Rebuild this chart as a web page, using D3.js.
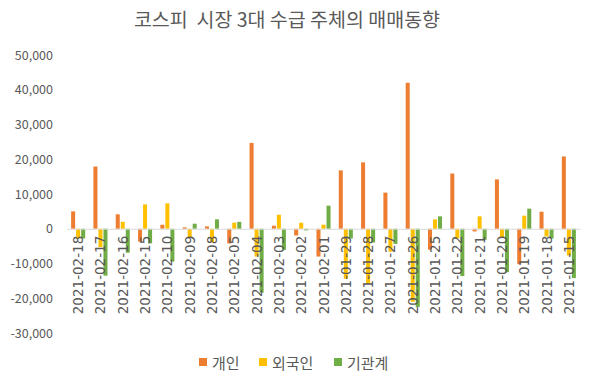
<!DOCTYPE html>
<html><head><meta charset="utf-8">
<script src="https://cdn.jsdelivr.net/npm/d3@7"></script>
<style>body{margin:0;background:#fff}svg{display:block}</style>
</head><body>
<script>
const dates = ["2021-02-18","2021-02-17","2021-02-16","2021-02-15","2021-02-10","2021-02-09","2021-02-08","2021-02-05","2021-02-04","2021-02-03","2021-02-02","2021-02-01","2021-01-29","2021-01-28","2021-01-27","2021-01-26","2021-01-25","2021-01-22","2021-01-21","2021-01-20","2021-01-19","2021-01-18","2021-01-15"];
const individual = [5000,17900,4150,-3700,1150,400,670,-4250,24700,870,-1930,-8000,16800,19100,10400,42000,-6000,15900,-770,14200,-10200,4900,20800];
const foreign = [-2800,-5300,2000,7000,7300,-2500,-3850,1750,-8000,4050,1730,1160,-14400,-15800,-6600,-21000,2700,-2800,3570,-2500,3760,-2200,-7700];
const institution = [-2800,-13500,-6900,-4200,-9450,1450,2700,2000,-18400,-6070,-480,6650,-2800,-3950,-4340,-22500,3570,-13600,-3180,-12500,5780,-2800,-14200];
const seriesNames = ["개인","외국인","기관계"];
const colors = ["#ED7D31","#FFC000","#70AD47"];
const yTicks = [-30000,-20000,-10000,0,10000,20000,30000,40000,50000];
const title = "코스피  시장 3대 수급 주체의 매매동향";

const W = 591, H = 381;
const svg = d3.select("body").append("svg").attr("width", W).attr("height", H);
const font = "'Noto Sans CJK KR', 'Noto Sans', sans-serif";

const x0 = d3.scaleBand().domain(dates).range([67, 580]).paddingInner(0.37).paddingOuter(0.185);
const x1 = d3.scaleBand().domain(seriesNames).range([0, x0.bandwidth()]).paddingInner(0.2);
const y = d3.scaleLinear().domain([-30000, 50000]).range([333, 55]);

const seriesVals = [individual, foreign, institution];

svg.append("text").attr("x", 287).attr("y", 27).attr("text-anchor", "middle")
  .style("white-space", "pre")
  .attr("font-family", font).attr("font-size", 19.5).attr("fill", "#595959").text(title);

// y axis labels
const yAxis = d3.axisLeft(y).tickValues(yTicks).tickSize(0).tickPadding(0)
  .tickFormat(d => d3.format(",")(d).replace("−","-"));
const ya = svg.append("g").attr("transform", "translate(53,0)").call(yAxis);
ya.select(".domain").remove();
ya.selectAll("text").attr("font-family", font).attr("font-size", 12.5).attr("fill", "#595959");

// bars
seriesVals.forEach((vals, si) => {
  svg.append("g").selectAll("rect").data(vals).join("rect")
    .attr("x", (d, i) => x0(dates[i]) + x1(seriesNames[si]))
    .attr("width", x1.bandwidth())
    .attr("y", d => y(Math.max(0, d)))
    .attr("height", d => Math.abs(y(d) - y(0)))
    .attr("fill", colors[si]);
});

// zero axis line
const xa = svg.append("g").attr("transform", `translate(0,${y(0)})`)
  .call(d3.axisBottom(x0).tickSize(0).tickPadding(0));
xa.select(".domain").attr("stroke", "#D9D9D9").attr("stroke-width", 1.2);
xa.selectAll("text")
  .attr("font-family", "'DejaVu Sans', sans-serif").attr("font-size", 13.5).attr("fill", "#595959")
  .attr("text-anchor", "end").attr("dy", null)
  .attr("transform", "translate(0,7) rotate(-90)")
  .attr("x", 0).attr("y", 0).attr("dominant-baseline", "central");

// legend
const legendX = [199, 259, 334];
const lg = svg.append("g");
seriesNames.forEach((n, i) => {
  lg.append("rect").attr("x", legendX[i]).attr("y", 358).attr("width", 8).attr("height", 8).attr("fill", colors[i]);
  lg.append("text").attr("x", legendX[i] + 13).attr("y", 362).attr("dominant-baseline", "central")
    .attr("font-family", font).attr("font-size", 15).attr("fill", "#595959").text(n);
});
</script>
</body></html>
